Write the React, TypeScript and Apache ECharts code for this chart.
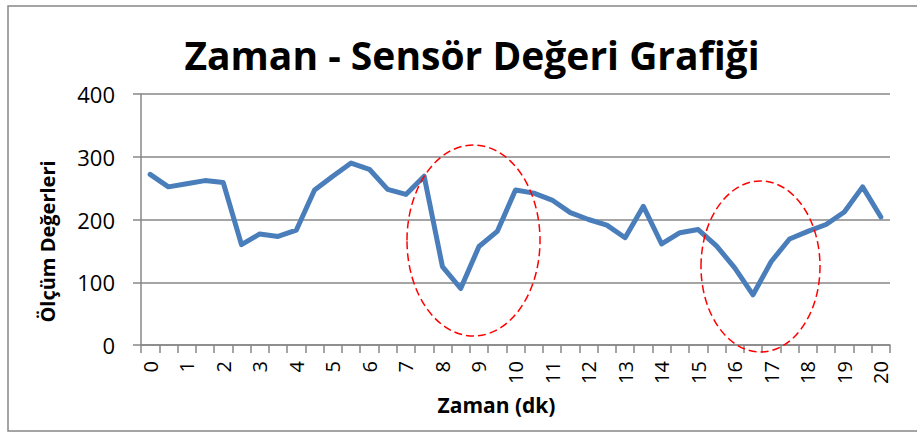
import React, { useEffect, useRef } from "react";
import * as echarts from "echarts";

const categories: string[] = [
  "0", "0.5", "1", "1.5", "2", "2.5", "3", "3.5", "4", "4.5",
  "5", "5.5", "6", "6.5", "7", "7.5", "8", "8.5", "9", "9.5",
  "10", "10.5", "11", "11.5", "12", "12.5", "13", "13.5", "14", "14.5",
  "15", "15.5", "16", "16.5", "17", "17.5", "18", "18.5", "19", "19.5", "20",
];

const sensorValues: number[] = [
  272, 252, 257, 262, 259, 160, 177, 173, 183, 247,
  269, 290, 280, 248, 240, 269, 125, 90, 157, 181,
  247, 242, 231, 211, 200, 191, 171, 221, 161, 179,
  184, 158, 123, 80, 133, 169, 181, 192, 212, 252, 204,
];

const yTicks = { min: 0, max: 400, interval: 100 };

const titleText = "Zaman - Sensör Değeri Grafiği";
const xName = "Zaman (dk)";
const yName = "Ölçüm Değerleri";

export default function App() {
  const ref = useRef<HTMLDivElement>(null);

  useEffect(() => {
    if (!ref.current) return;
    const chart = echarts.init(ref.current, undefined, { renderer: "svg" });
    const font = "'Open Sans', 'DejaVu Sans', sans-serif";
    const gray = "#878787";
    chart.setOption({
      animation: false,
      backgroundColor: "#ffffff",
      textStyle: { fontFamily: font },
      title: {
        text: titleText,
        left: 467,
        top: 30,
        textAlign: "center",
        textStyle: { fontFamily: font, fontSize: 39, fontWeight: "bold", color: "#000" },
      },
      grid: { left: 141, right: 27, top: 94, bottom: 88, containLabel: false },
      xAxis: {
        type: "category",
        data: categories,
        boundaryGap: true,
        name: xName,
        nameLocation: "middle",
        nameGap: 49,
        nameTextStyle: {
          fontFamily: font,
          fontSize: 21,
          fontWeight: "bold",
          color: "#000",
          padding: [0, 38, 0, 0],
        },
        axisLine: { show: true, lineStyle: { color: gray, width: 1.5 } },
        axisTick: { show: true, interval: 0, length: 8, inside: false, lineStyle: { color: gray, width: 1.5 } },
        axisLabel: {
          interval: 1,
          rotate: 90,
          margin: 16,
          fontSize: 20,
          color: "#000",
          fontFamily: font,
        },
        splitLine: { show: false },
      },
      yAxis: {
        type: "value",
        min: yTicks.min,
        max: yTicks.max,
        interval: yTicks.interval,
        name: yName,
        nameLocation: "middle",
        nameGap: 84,
        nameRotate: 90,
        nameTextStyle: {
          fontFamily: font,
          fontSize: 20,
          fontWeight: "bold",
          color: "#000",
          padding: [0, 44, 0, 0],
        },
        axisLine: { show: true, lineStyle: { color: gray, width: 1.5 } },
        axisTick: { show: true, length: 8, inside: false, lineStyle: { color: gray, width: 1.5 } },
        axisLabel: { margin: 26, fontSize: 22, color: "#000", fontFamily: font },
        splitLine: { show: true, lineStyle: { color: gray, width: 1.5 } },
      },
      series: [
        {
          type: "line",
          data: sensorValues,
          showSymbol: false,
          symbol: "none",
          lineStyle: { color: "#4a7ebb", width: 5, join: "round", cap: "round" },
          z: 3,
        },
      ],
      graphic: [
        {
          type: "rect",
          shape: { x: 8, y: 6, width: 920, height: 425 },
          style: { fill: "none", stroke: gray, lineWidth: 1.5 },
          silent: true,
          z: 0,
        },
        {
          type: "ellipse",
          shape: { cx: 473.5, cy: 240.5, rx: 66.5, ry: 95.5 },
          style: { fill: "none", stroke: "#ff0000", lineWidth: 1.5, lineDash: [8, 4] },
          silent: true,
          z: 10,
        },
        {
          type: "ellipse",
          shape: { cx: 760.5, cy: 266.5, rx: 59.5, ry: 85.5 },
          style: { fill: "none", stroke: "#ff0000", lineWidth: 1.5, lineDash: [8, 4] },
          silent: true,
          z: 10,
        },
      ],
    });
    return () => chart.dispose();
  }, []);

  return (
    <div
      ref={ref}
      style={{ position: "fixed", left: 0, top: 0, width: 917, height: 433, background: "#fff" }}
    />
  );
}
